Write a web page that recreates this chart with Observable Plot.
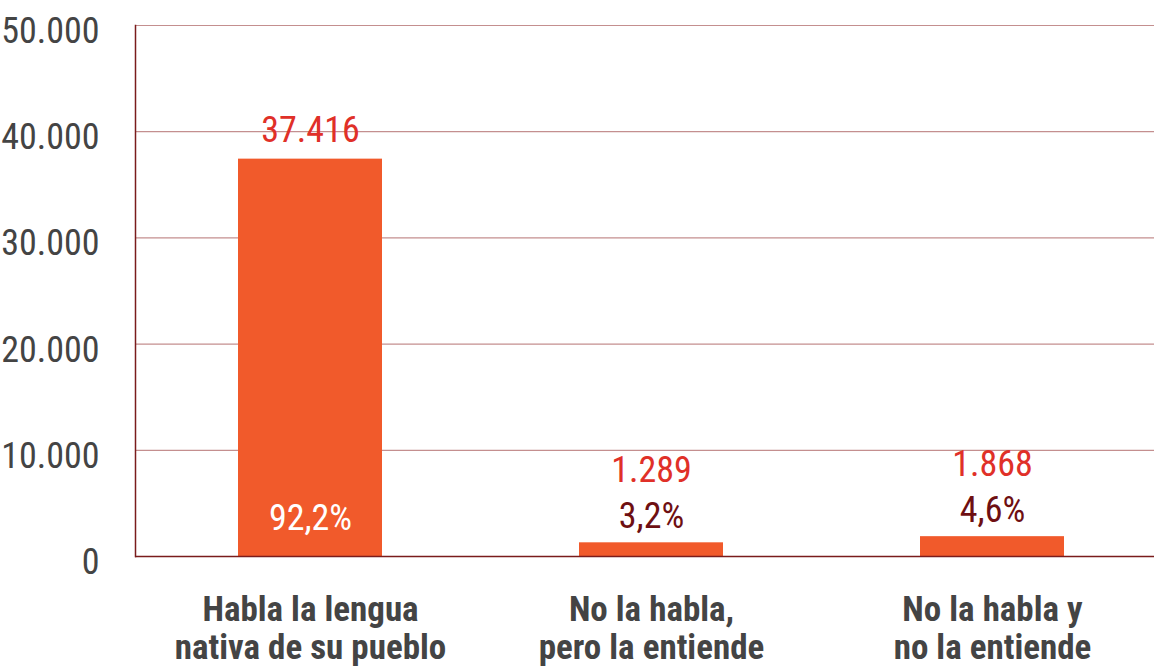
<!DOCTYPE html>
<html>
<head>
<meta charset="utf-8">
<script src="https://cdn.jsdelivr.net/npm/d3@7"></script>
<script src="https://cdn.jsdelivr.net/npm/@observablehq/plot@0.6"></script>
<style>
  html, body { margin: 0; padding: 0; background: #fff; }
  #chart svg { display: block; }
</style>
</head>
<body>
<div id="chart"></div>
<script>
const categories = [
  "Habla la lengua nativa de su pueblo",
  "No la habla, pero la entiende",
  "No la habla y no la entiende"
];
const categoryLines = [
  ["Habla la lengua", "nativa de su pueblo"],
  ["No la habla,", "pero la entiende"],
  ["No la habla y", "no la entiende"]
];
const counts = [37416, 1289, 1868];
const percents = ["92,2%", "3,2%", "4,6%"];
const yTicks = [0, 10000, 20000, 30000, 40000, 50000];

const data = categories.map((c, i) => ({category: c, count: counts[i], pct: percents[i]}));
const big = data.filter(d => d.count > 10000);
const small = data.filter(d => d.count <= 10000);
const fmt = v => d3.format(",")(v).replace(/,/g, ".");
const FONT = "'Roboto Condensed', 'Liberation Sans Narrow', 'DejaVu Sans Condensed', Roboto, sans-serif";

const chart = Plot.plot({
  width: 1154,
  height: 668,
  marginLeft: 135,
  marginRight: 0,
  marginTop: 25,
  marginBottom: 112,
  style: {fontFamily: FONT, background: "#fff"},
  x: {domain: categories, range: [135, 1166], paddingInner: 0.578, paddingOuter: 0.299, align: 0.5, label: null},
  y: {domain: [0, 50000], label: null},
  marks: [
    Plot.ruleY(yTicks.filter(d => d > 0), {y: d => d, stroke: "#b06a6a", strokeOpacity: 0.75, strokeWidth: 1.2}),
    Plot.barY(data, {x: "category", y: "count", fill: "#F15A2B"}),
    Plot.ruleY([0], {stroke: "#7a1c1c", strokeWidth: 1.5}),
    Plot.frame({anchor: "left", stroke: "#7a1c1c", strokeWidth: 1.5}),
    Plot.axisY(yTicks, {tickSize: 0, tickPadding: 36, tickFormat: fmt, fontSize: 36, fill: "#444", dy: 6, fontFamily: FONT, label: null}),
    Plot.axisX({tickSize: 0, tickPadding: 37, fontSize: 35, fontWeight: "bold", fill: "#444", lineHeight: 1.09, fontFamily: FONT, label: null,
      tickFormat: c => categoryLines[categories.indexOf(c)].join("\n")}),
    Plot.text(big, {x: "category", y: "count", text: d => fmt(d.count), dy: -29, fill: "#E03028", fontSize: 36, fontFamily: FONT}),
    Plot.text(big, {x: "category", y: 0, text: "pct", dy: -38, fill: "#fff", fontSize: 36, fontFamily: FONT}),
    Plot.text(small, {x: "category", y: "count", text: d => fmt(d.count), dy: -72, fill: "#E03028", fontSize: 36, fontFamily: FONT}),
    Plot.text(small, {x: "category", y: "count", text: "pct", dy: -26, fill: "#6e0f12", fontSize: 36, fontFamily: FONT})
  ]
});
document.getElementById("chart").appendChild(chart);
</script>
</body>
</html>
